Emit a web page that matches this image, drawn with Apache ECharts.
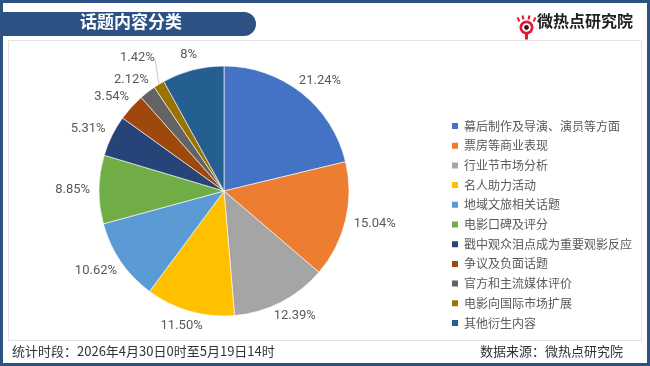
<!DOCTYPE html>
<html>
<head>
<meta charset="utf-8">
<script src="https://cdn.jsdelivr.net/npm/echarts@6/dist/echarts.min.js"></script>
<style>
  html, body { margin: 0; padding: 0; background: #fff; }
  #main { width: 650px; height: 366px; }
</style>
</head>
<body>
<div id="main"></div>
<script>
// data
var categories = [
  '幕后制作及导演、演员等方面',
  '票房等商业表现',
  '行业节市场分析',
  '名人助力活动',
  '地域文旅相关话题',
  '电影口碑及评分',
  '戳中观众泪点成为重要观影反应',
  '争议及负面话题',
  '官方和主流媒体评价',
  '电影向国际市场扩展',
  '其他衍生内容'
]
var shares = [21.24, 15.04, 12.39, 11.50, 10.62, 8.85, 5.31, 3.54, 2.12, 1.42, 8]
var shareLabels = ['21.24%', '15.04%', '12.39%', '11.50%', '10.62%', '8.85%', '5.31%', '3.54%', '2.12%', '1.42%', '8%']
var colors = ['#4472C4', '#ED7D31', '#A5A5A5', '#FFC000', '#5B9BD5', '#70AD47',
  '#264478', '#9E480E', '#636363', '#997300', '#255E91']

var navy = '#2C5183'
var font = '"Noto Sans CJK SC", "Microsoft YaHei", sans-serif'

var pieData = shares.map(function (v, i) {
  var item = { name: categories[i], value: v, itemStyle: { color: colors[i] } }
  if (i === 9) {
    // small slice: label pushed further out with a visible leader line
    item.labelLine = { length: 24, lineStyle: { opacity: 1 } }
  }
  return item
})

// excel-like placement: the label box sits just outside the end of the leader
function placeLabel (params) {
  var pts = params.labelLinePoints
  if (!pts) return {}
  var dx = pts[1][0] - pts[0][0]
  var dy = pts[1][1] - pts[0][1]
  var len = Math.sqrt(dx * dx + dy * dy) || 1
  var ux = dx / len
  var uy = dy / len
  var w = params.labelRect.width
  var h = params.labelRect.height
  return {
    x: pts[1][0] + ux * w / 2,
    y: pts[1][1] + uy * h / 2,
    align: 'center',
    verticalAlign: 'middle'
  }
}

var chart = echarts.init(document.getElementById('main'), null, { renderer: 'canvas' })
var option = {
  animation: false,
  backgroundColor: '#fff',
  textStyle: { fontFamily: font },
  graphic: [
    // outer border
    { type: 'rect', shape: { x: 1.5, y: 1.5, width: 647, height: 363 },
      style: { fill: null, stroke: navy, lineWidth: 3 }, z: 1 },
    // inner plot frame
    { type: 'rect', shape: { x: 8.5, y: 40.5, width: 633, height: 300 },
      style: { fill: null, stroke: '#E3E3E3', lineWidth: 1 }, z: 1 },
    // title tab
    { type: 'rect', shape: { x: 0, y: 12, width: 256, height: 24, r: [0, 12, 12, 0] },
      style: { fill: navy }, z: 2 },
    { type: 'text', left: 80, top: 13,
      style: { text: '话题内容分类', fill: '#fff', font: 'bold 17px ' + font }, z: 3 },
    // logo
    { type: 'group', left: 515, top: 13, z: 3, children: [
      { type: 'circle', shape: { cx: 9, cy: 11, r: 7 }, style: { fill: '#E6162D' } },
      { type: 'circle', shape: { cx: 9, cy: 11, r: 4.3 }, style: { fill: '#fff' } },
      { type: 'circle', shape: { cx: 9, cy: 11, r: 2.4 }, style: { fill: '#222' } },
      { type: 'rect', shape: { x: 7.5, y: 17, width: 3, height: 6 }, style: { fill: '#E6162D' } },
      { type: 'polyline', shape: { points: [[2, 5], [0, 1]] }, style: { stroke: '#E6162D', lineWidth: 2 } },
      { type: 'polyline', shape: { points: [[6, 3], [5, -1]] }, style: { stroke: '#E6162D', lineWidth: 2 } },
      { type: 'polyline', shape: { points: [[11, 3], [12, -1]] }, style: { stroke: '#E6162D', lineWidth: 2 } },
      { type: 'polyline', shape: { points: [[16, 5], [18, 1]] }, style: { stroke: '#E6162D', lineWidth: 2 } }
    ] },
    { type: 'text', left: 537, top: 13,
      style: { text: '微热点研究院', fill: '#222', font: 'bold 16px ' + font }, z: 3 },
    // footer
    { type: 'text', left: 12, top: 345,
      style: { text: '统计时段：2026年4月30日0时至5月19日14时', fill: '#333', font: '13px ' + font }, z: 3 },
    { type: 'text', right: 27, top: 345,
      style: { text: '数据来源：微热点研究院', fill: '#333', font: '13px ' + font }, z: 3 }
  ],
  legend: {
    orient: 'vertical',
    left: 445,
    top: 114,
    icon: 'rect',
    itemWidth: 8,
    itemHeight: 8,
    itemGap: 5.7,
    selectedMode: false,
    data: categories,
    textStyle: { color: '#595959', fontSize: 12, lineHeight: 14, fontFamily: font }
  },
  series: [{
    type: 'pie',
    center: [224, 191],
    radius: [0, 125],
    startAngle: 90,
    clockwise: true,
    avoidLabelOverlap: false,
    data: pieData,
    itemStyle: { borderColor: '#fff', borderWidth: 0.6 },
    label: {
      show: true,
      position: 'outside',
      color: '#595959',
      fontSize: 13,
      fontFamily: 'Roboto, "Noto Sans", sans-serif',
      formatter: function (p) { return shareLabels[p.dataIndex] }
    },
    labelLine: {
      show: true,
      length: 9,
      length2: 0,
      smooth: false,
      lineStyle: { color: '#C8C8C8', width: 1, opacity: 0 }
    },
    labelLayout: placeLabel
  }]
}
chart.setOption(option)
</script>
</body>
</html>
